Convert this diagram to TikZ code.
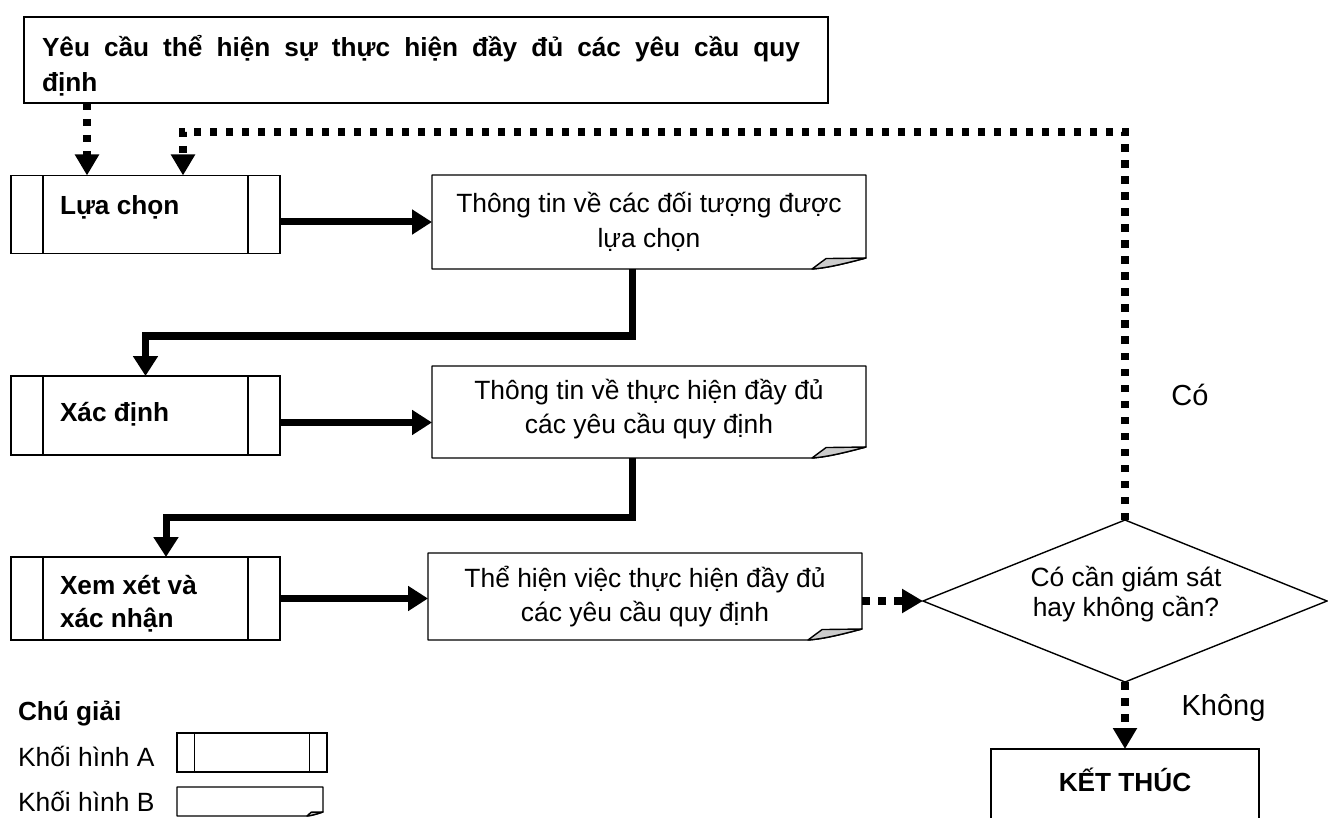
\documentclass[tikz,border=0pt]{standalone}
\usepackage{fontspec}
\setmainfont{Liberation Sans}
\usetikzlibrary{arrows.meta,shapes.geometric,calc}
\newcommand\docoutline[3]{%
  \draw[outl,line join=round] (#1.north west) -- (#1.north east) -- ($(#1.south east)+(0,-#3)$)
    .. controls ($(#1.south east)+(-0.35*#2,-0.55*#3)$) and ($(#1.south east)+(-0.7*#2,-0.1*#3)$) .. ($(#1.south east)+(-#2,0)$)
    -- (#1.south west) -- cycle;
  \filldraw[outl,line join=round,fill=gray!40] ($(#1.south east)+(-#2,0)$) -- ($(#1.south east)+(-0.74*#2,-0.95*#3)$) -- ($(#1.south east)+(0,-#3)$)
    .. controls ($(#1.south east)+(-0.35*#2,-0.55*#3)$) and ($(#1.south east)+(-0.7*#2,-0.1*#3)$) .. ($(#1.south east)+(-#2,0)$) -- cycle;
}
\begin{document}
\begin{tikzpicture}[x=1pt,y=-1pt,
  every node/.style={inner sep=0pt,outer sep=0pt},
  txt/.style={font=\fontsize{26.4}{32}\selectfont},
  btxt/.style={font=\fontsize{26.2}{32}\selectfont\bfseries},
  lbl/.style={font=\fontsize{29}{34}\selectfont},
  outl/.style={line width=1.4pt},
  boxA/.style={draw,outl,path picture={
     \draw[outl] ([xshift=#1]path picture bounding box.north west) -- ([xshift=#1]path picture bounding box.south west)
       ([xshift=-#1]path picture bounding box.north east) -- ([xshift=-#1]path picture bounding box.south east);}},
  flow/.style={line width=7pt,-{Triangle[length=20pt,width=24pt]}},
  dflow/.style={line width=7.5pt,dash pattern=on 7.5pt off 8.5pt,-{Triangle[length=21pt,width=23pt]}},
]
\useasboundingbox (0,0) rectangle (1328,818);

% top requirement box
\node[draw,line width=1.6pt,minimum width=804pt,minimum height=86pt] (req) at (426,60) {};
\node[btxt,anchor=base west] (req1) at (42,57) {\makebox[758pt][s]{Yêu cầu thể hiện sự thực hiện đầy đủ các yêu cầu quy}};
\node[btxt,anchor=base west] (req2) at (42,92) {định};

% row 1
\node[boxA=32pt,minimum width=269pt,minimum height=78pt] (sel) at (145.5,214.5) {};
\node[btxt,anchor=base west] (selt) at (60,214.5) {Lựa chọn};
\node[minimum width=434pt,minimum height=94pt] (d1) at (649,222) {};
\docoutline{d1}{54}{11}
\node[txt,anchor=base] (d1a) at (649,212.5) {Thông tin về các đối tượng được};
\node[txt,anchor=base] (d1b) at (649,247.5) {lựa chọn};

% row 2
\node[boxA=32pt,minimum width=269pt,minimum height=79pt] (det) at (145.5,415.5) {};
\node[btxt,anchor=base west] (dett) at (60,421.5) {Xác định};
\node[minimum width=434pt,minimum height=92pt] (d2) at (649,412) {};
\docoutline{d2}{54}{11}
\node[txt,anchor=base] (d2a) at (649,399.5) {Thông tin về thực hiện đầy đủ};
\node[txt,anchor=base] (d2b) at (649,433.5) {các yêu cầu quy định};

% row 3
\node[boxA=32pt,minimum width=269pt,minimum height=83pt] (rev) at (145.5,598.5) {};
\node[btxt,anchor=base west] (revt1) at (60,594.5) {Xem xét và};
\node[btxt,anchor=base west] (revt2) at (60,627) {xác nhận};
\node[minimum width=434pt,minimum height=87pt] (d3) at (645,596.5) {};
\docoutline{d3}{54}{11}
\node[txt,anchor=base] (d3a) at (645,587.5) {Thể hiện việc thực hiện đầy đủ};
\node[txt,anchor=base] (d3b) at (645,621.5) {các yêu cầu quy định};

% decision
\node[diamond,draw,outl,aspect=2.5,minimum width=404pt,minimum height=162pt] (dia) at (1125,601) {};
\node[txt,anchor=base] (diat1) at (1126,586.5) {Có cần giám sát};
\node[txt,anchor=base] (diat2) at (1126,616.5) {hay không cần?};

% end
\node[draw,outl,minimum width=268pt,minimum height=90pt] (end) at (1125,794) {};
\node[btxt,anchor=base] (endt) at (1125,791) {KẾT THÚC};

\node[lbl,anchor=base] (yes) at (1190,405) {Có};
\node[lbl,anchor=base] (no) at (1223.5,715) {Không};

% legend
\node[btxt,anchor=base west] (lg) at (18,720) {Chú giải};
\node[txt,anchor=base west] (lgA) at (18,766) {Khối hình A};
\node[boxA=17.5pt,minimum width=150pt,minimum height=39pt] (lgAb) at (252,752.5) {};
\node[txt,anchor=base west] (lgB) at (18,811) {Khối hình B};
\node[minimum width=146pt,minimum height=29pt] (lgBb) at (250,801.5) {};
\docoutline{lgBb}{16}{4}

% connectors
\coordinate (a2) at ($(det.east)+(0,7)$);
\coordinate (fb) at ([xshift=37.5pt]sel.north);
\coordinate (tp) at ([xshift=-58.5pt]sel.north);
\coordinate (r3) at ([xshift=20.5pt]rev.north);
\draw[flow] (sel.east |- d1.west) -- (d1.west);
\draw[flow] ([xshift=-17pt]d1.south) -- ++(0,67) -| (det.north);
\draw[flow] (a2) -- (a2 -| d2.west);
\draw[flow] ([xshift=-17pt]d2.south) -- ++(0,59) -| (r3);
\draw[flow] (rev.east) -- (rev.east -| d3.west);
\draw[dflow] (d3.east |- dia.west) -- (dia.west);
\draw[dflow] (dia.south) -- (end.north);
\draw[dflow] (dia.north) -- ++(0,-388) -| (fb);
\draw[dflow] (tp |- req.south) -- (tp);
\end{tikzpicture}
\end{document}
